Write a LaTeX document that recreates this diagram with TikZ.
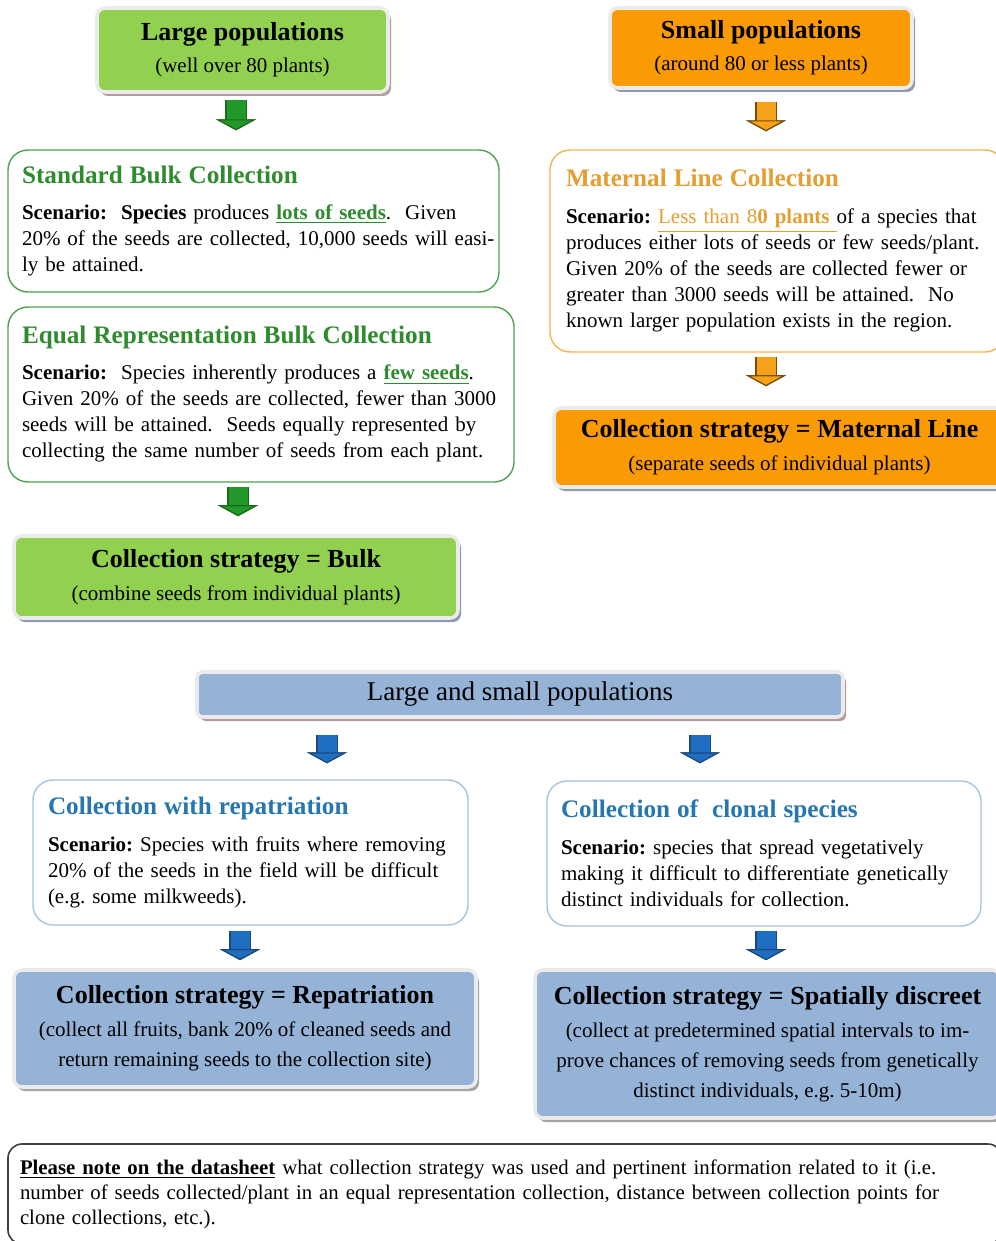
\documentclass[tikz,border=0pt]{standalone}
\usepackage{fontspec}
\setmainfont{Liberation Serif}
\usetikzlibrary{arrows.meta, shadows, calc}

\definecolor{popgreen}{HTML}{92D050}
\definecolor{poporange}{HTML}{FA9A05}
\definecolor{popblue}{HTML}{95B3D7}
\definecolor{headgreen}{HTML}{2E8B2E}
\definecolor{headorange}{HTML}{E59E30}
\definecolor{headblue}{HTML}{2676B0}
\definecolor{linegreen}{HTML}{4EA44E}
\definecolor{lineorange}{HTML}{F2B453}
\definecolor{lineblue}{HTML}{A7C3DE}
\definecolor{arrowgreen}{HTML}{22982A}
\definecolor{arrowgreendark}{HTML}{1D6A1D}
\definecolor{arroworange}{HTML}{F7A21B}
\definecolor{arroworangedark}{HTML}{7A4E08}
\definecolor{arrowblue}{HTML}{1F6EC2}
\definecolor{arrowbluedark}{HTML}{1A4A80}
\definecolor{shadowpink}{HTML}{B49C9C}
\definecolor{shadowblue}{HTML}{8E9AAE}
\definecolor{shadowgray}{HTML}{A4A4A8}

\tikzset{
  popbox/.style 2 args={rectangle, rounded corners=4pt, fill=#1, draw=black!8,
    line width=1.8pt, align=center, inner sep=0pt,
    font=\fontsize{10.5}{15}\selectfont,
    drop shadow={shadow xshift=1.5pt, shadow yshift=-2pt, fill=#2, opacity=1}},
  scenbox/.style={rectangle, rounded corners=10pt, draw=#1, line width=0.7pt,
    fill=white, align=left, inner xsep=7pt, inner ysep=0pt,
    font=\fontsize{10.5}{13}\selectfont},
  barrow/.style 2 args={line width=9.5pt, draw=#1,
    -{Triangle[width=20pt, length=5.5pt, fill=#1, color=#2, line width=0.6pt]},
    preaction={draw=#2, line width=10.7pt, -{Triangle[width=20pt, length=5.5pt]}}}
}

\begin{document}
\frenchspacing
\begin{tikzpicture}[x=0.5pt, y=-0.5pt]
  \useasboundingbox (0,0) rectangle (995,1241);

  \node[popbox={popgreen}{shadowpink}, minimum width=145.5pt, minimum height=42pt]
    (lp) at (242.5,50)
    {{\fontsize{13}{15}\selectfont\bfseries Large populations}\\[1pt](well over 80 plants)};
  \node[popbox={poporange}{shadowblue}, minimum width=151pt, minimum height=40pt]
    (sp) at (761,48)
    {{\fontsize{13}{15}\selectfont\bfseries Small populations}\\[1pt](around 80 or less plants)};

  \node[scenbox=linegreen, minimum width=245.5pt, minimum height=71pt, text width=231.5pt]
    (sbc) at (253.5,221)
    {{\fontsize{12.6}{13}\selectfont\bfseries\color{headgreen}Standard Bulk Collection}\\[5pt]
     \textbf{Scenario:}\ \ \textbf{Species} produces {\color{headgreen}\underline{\textbf{lots of seeds}}}.\ \ Given\\
     \mbox{20\% of the seeds are collected, 10,000 seeds will easi-}\\
     ly be attained.};
  \node[scenbox=linegreen, minimum width=253pt, minimum height=87.5pt, text width=239pt]
    (erb) at (261,394.5)
    {{\fontsize{12.6}{13}\selectfont\bfseries\color{headgreen}Equal Representation Bulk Collection}\\[5pt]
     \textbf{Scenario:}\ \ Species inherently produces a {\color{headgreen}\underline{\textbf{few seeds}}}.\\
     \mbox{Given 20\% of the seeds are collected, fewer than 3000}\\
     seeds will be attained.\ \ Seeds equally represented by\\
     collecting the same number of seeds from each plant.};
  \node[popbox={popgreen}{shadowblue}, minimum width=222pt, minimum height=41pt]
    (bulk) at (236,577)
    {{\fontsize{13}{15}\selectfont\bfseries Collection strategy = Bulk}\\[1.5pt](combine seeds from individual plants)};

  \node[scenbox=lineorange, inner xsep=8pt, minimum width=227.5pt, minimum height=101pt, text width=211.5pt]
    (mlc) at (777.5,251)
    {{\fontsize{12.6}{13}\selectfont\bfseries\color{headorange}Maternal Line Collection}\\[5.5pt]
     \textbf{Scenario:} {\color{headorange}\underline{Less than 8\textbf{0 plants}\ }}of a species that\\
     \mbox{produces either lots of seeds or few seeds/plant.}\\
     Given 20\% of the seeds are collected fewer or\\
     greater than 3000 seeds will be attained.\ \ No\\
     known larger population exists in the region.};
  \node[popbox={poporange}{shadowblue}, minimum width=225.5pt, minimum height=39.5pt]
    (mls) at (779.5,447.5)
    {{\fontsize{13}{15}\selectfont\bfseries Collection strategy = Maternal Line}\\[1.5pt](separate seeds of individual plants)};

  \node[popbox={popblue}{shadowpink}, rounded corners=3pt, minimum width=323pt, minimum height=22.5pt,
    font=\fontsize{13.5}{15}\selectfont]
    (lsp) at (520,694.5) {Large and small populations};

  \node[scenbox=lineblue, inner xsep=7.5pt, minimum width=217.5pt, minimum height=72.5pt, text width=202.5pt]
    (rep) at (250.5,852.5)
    {{\fontsize{12.6}{13}\selectfont\bfseries\color{headblue}Collection with repatriation}\\[5.5pt]
     \textbf{Scenario:} Species with fruits where removing\\
     20\% of the seeds in the field will be difficult\\
     (e.g. some milkweeds).};
  \node[scenbox=lineblue, minimum width=217pt, minimum height=72.5pt, text width=203pt]
    (clo) at (764,853.5)
    {{\fontsize{12.6}{13}\selectfont\bfseries\color{headblue}Collection of\ \ clonal species}\\[5.5pt]
     \textbf{Scenario:} species that spread vegetatively\\
     making it difficult to differentiate genetically\\
     distinct individuals for collection.};

  \node[popbox={popblue}{shadowgray}, minimum width=231pt, minimum height=58.5pt]
    (reps) at (245,1028.5)
    {{\fontsize{13}{15}\selectfont\bfseries Collection strategy = Repatriation}\\[1.5pt]
     (collect all fruits, bank 20\% of cleaned seeds and\\
     return remaining seeds to the collection site)};
  \node[popbox={popblue}{shadowgray}, minimum width=232.5pt, minimum height=74pt]
    (spat) at (767.5,1044)
    {{\fontsize{13}{15}\selectfont\bfseries Collection strategy = Spatially discreet}\\[1.5pt]
     (collect at predetermined spatial intervals to im-\\
     prove chances of removing seeds from genetically\\
     distinct individuals, e.g. 5-10m)};

  \node[rectangle, rounded corners=7pt, draw=black!75, line width=0.8pt, align=left,
    inner xsep=6pt, inner ysep=0pt, minimum width=497pt, minimum height=50pt, text width=485pt,
    font=\fontsize{10.4}{12.5}\selectfont]
    (note) at (505,1194)
    {\mbox{\underline{\textbf{Please note on the datasheet}} what collection strategy was used and pertinent information related to it (i.e.}\\
     \mbox{number of seeds collected/plant in an equal representation collection, distance between collection points for}\\
     clone collections, etc.).};

  \draw[barrow={arrowgreen}{arrowgreendark}, shorten <=3pt, shorten >=9.5pt]
    ($(lp.south)+(-3.25pt,0)$) -- ($(lp.south |- sbc.north)+(-3.25pt,0)$);
  \draw[barrow={arroworange}{arroworangedark}, shorten <=6pt, shorten >=9pt]
    ($(sp.south)+(2.5pt,0)$) -- ($(sp.south |- mlc.north)+(2.5pt,0)$);
  \draw[barrow={arrowgreen}{arrowgreendark}, shorten <=2pt, shorten >=9pt]
    ($(erb.south)+(-11.5pt,0)$) -- ($(erb.south |- bulk.north)+(-11.5pt,0)$);
  \draw[barrow={arroworange}{arroworangedark}, shorten <=2pt, shorten >=10pt]
    ($(mlc.south)+(-5.75pt,0)$) -- ($(mlc.south |- mls.north)+(-5.75pt,0)$);
  \draw[barrow={arrowblue}{arrowbluedark}, shorten <=8pt, shorten >=8pt]
    ($(lsp.south)+(-96.5pt,0)$) -- ($(lsp.south |- rep.north)+(-96.5pt,0)$);
  \draw[barrow={arrowblue}{arrowbluedark}, shorten <=8pt, shorten >=8.5pt]
    ($(lsp.south)+(90pt,0)$) -- ($(lsp.south |- clo.north)+(90pt,0)$);
  \draw[barrow={arrowblue}{arrowbluedark}, shorten <=2.5pt, shorten >=4pt]
    ($(rep.south)+(-5.25pt,0)$) -- ($(rep.south |- reps.north)+(-5.25pt,0)$);
  \draw[barrow={arrowblue}{arrowbluedark}, shorten <=2pt, shorten >=4pt]
    ($(clo.south)+(1pt,0)$) -- ($(clo.south |- spat.north)+(1pt,0)$);
\end{tikzpicture}
\end{document}
